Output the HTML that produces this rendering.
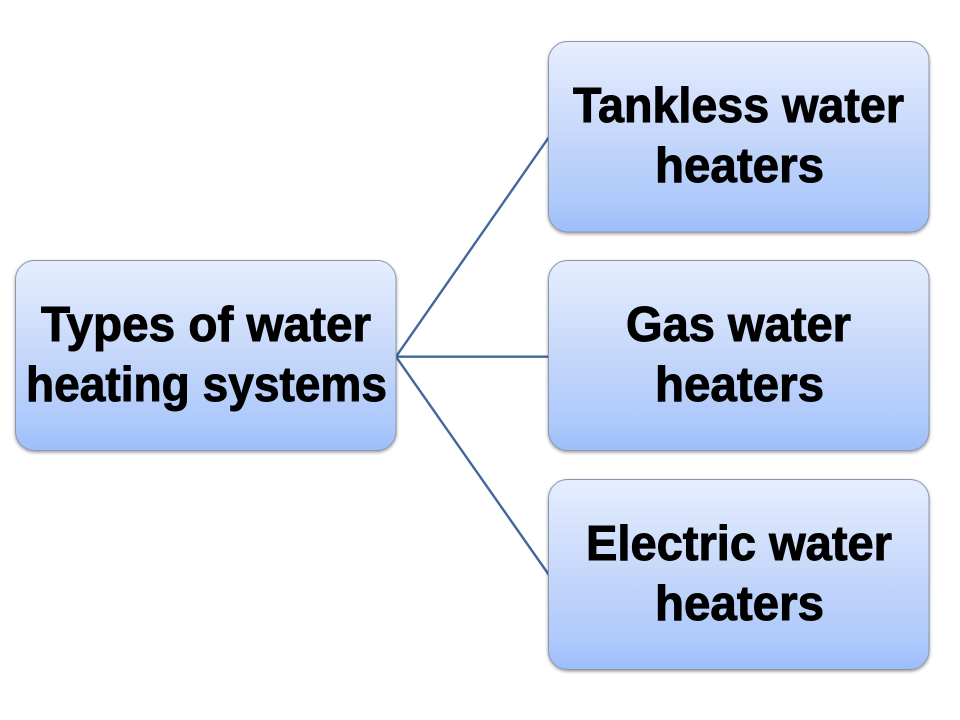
<!DOCTYPE html>
<html>
<head>
<meta charset="utf-8">
<style>
html,body{margin:0;padding:0;background:#fff;width:960px;height:720px;overflow:hidden}
svg{display:block}
text{font-family:"Liberation Sans",sans-serif;font-weight:700;font-size:49px;fill:#000;stroke:#000;stroke-width:1px}
</style>
</head>
<body>
<svg width="960" height="720" viewBox="0 0 960 720" xmlns="http://www.w3.org/2000/svg">
<defs>
<linearGradient id="g" x1="0" y1="0" x2="0" y2="1">
<stop offset="0" stop-color="#e6eefe"/>
<stop offset=".5" stop-color="#c5d7fa"/>
<stop offset=".85" stop-color="#aec9fb"/>
<stop offset="1" stop-color="#9dbefb"/>
</linearGradient>
<filter id="s" x="-5%" y="-5%" width="110%" height="115%">
<feDropShadow dx="0" dy="1.5" stdDeviation="1.5" flood-color="#000" flood-opacity=".4"/>
</filter>
</defs>
<g stroke="#41689a" stroke-width="2.4" fill="none">
<line x1="396" y1="356.7" x2="549" y2="137"/>
<line x1="396" y1="356.7" x2="549" y2="356.7"/>
<line x1="396" y1="356.7" x2="549" y2="575"/>
</g>
<g fill="url(#g)" stroke="#8b97ab" stroke-width="1" filter="url(#s)">
<rect x="15.5" y="260.5" width="380.5" height="190" rx="19"/>
<rect x="548.5" y="41.5" width="380.5" height="190.5" rx="19"/>
<rect x="548.5" y="260.5" width="380.5" height="190" rx="19"/>
<rect x="548.5" y="479.5" width="380.5" height="190" rx="19"/>
</g>
<text x="41" y="341" textLength="330" lengthAdjust="spacingAndGlyphs">Types of water</text>
<text x="26" y="401" textLength="361" lengthAdjust="spacingAndGlyphs">heating systems</text>
<text x="573" y="122" textLength="331" lengthAdjust="spacingAndGlyphs">Tankless water</text>
<text x="655" y="182" textLength="169" lengthAdjust="spacingAndGlyphs">heaters</text>
<text x="626" y="341" textLength="225" lengthAdjust="spacingAndGlyphs">Gas water</text>
<text x="655" y="401" textLength="169" lengthAdjust="spacingAndGlyphs">heaters</text>
<text x="586" y="560" textLength="306" lengthAdjust="spacingAndGlyphs">Electric water</text>
<text x="655" y="620" textLength="169" lengthAdjust="spacingAndGlyphs">heaters</text>
</svg>
</body>
</html>
